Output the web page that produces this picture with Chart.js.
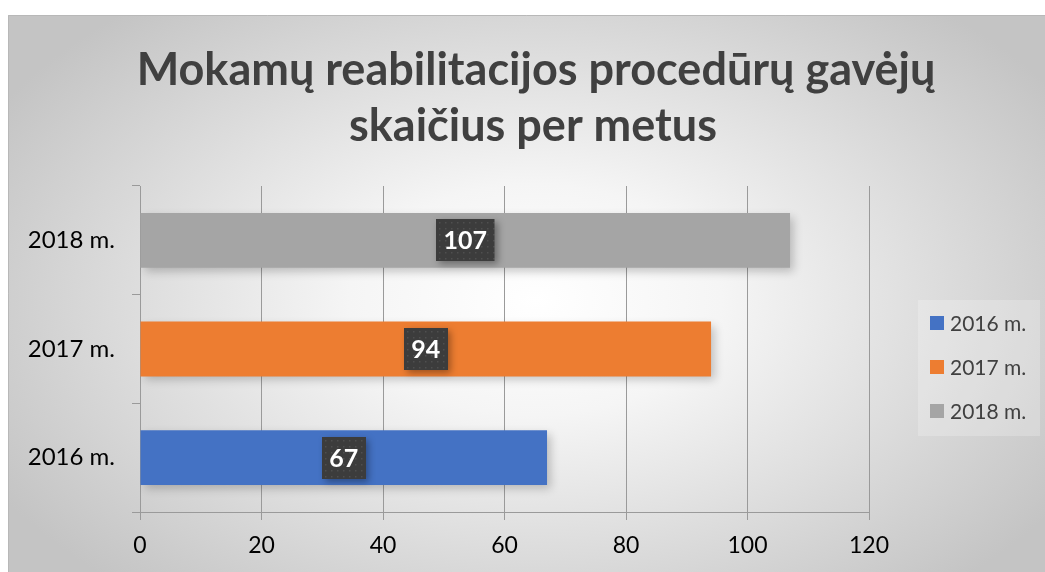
<!DOCTYPE html>
<html>
<head>
<meta charset="utf-8">
<script src="https://cdn.jsdelivr.net/npm/chart.js@4"></script>
<style>
    html, body { margin: 0; padding: 0; background: #ffffff; }
    #wrap { width: 1045px; height: 572px; position: relative; }
</style>
</head>
<body>
<div id="wrap"><canvas id="chart"></canvas></div>
<script>
// chart data
const titleLines = ["Mokamų reabilitacijos procedūrų gavėjų", "skaičius per metus"];
const categories = ["2016 m.", "2017 m.", "2018 m."];
const values = [67, 94, 107];
const colors = ["#4472c4", "#ed7d31", "#a5a5a5"];
const xTicks = [0, 20, 40, 60, 80, 100, 120];

const FONT = "Lato, 'Open Sans', sans-serif";

// background frame with soft radial fill
const backgroundPlugin = {
    id: "background",
    beforeDraw(chart) {
        const ctx = chart.ctx;
        const x0 = 8, y0 = 15, x1 = chart.width, y1 = chart.height;
        ctx.save();
        ctx.beginPath();
        ctx.rect(x0, y0, x1 - x0, y1 - y0);
        ctx.clip();
        ctx.translate(535, 300);
        ctx.scale(1, 0.62);
        const g = ctx.createRadialGradient(0, 0, 0, 0, 0, 620);
        g.addColorStop(0, "#ffffff");
        g.addColorStop(0.3, "#f5f5f5");
        g.addColorStop(1, "#c4c4c4");
        ctx.fillStyle = g;
        ctx.fillRect(-700, -700, 1400, 1400);
        ctx.restore();

        ctx.save();
        ctx.strokeStyle = "#b8b8b8";
        ctx.lineWidth = 1;
        ctx.beginPath();
        ctx.moveTo(x0 + 0.5, y1);
        ctx.lineTo(x0 + 0.5, y0 + 0.5);
        ctx.lineTo(x1, y0 + 0.5);
        ctx.stroke();
        ctx.restore();

        // title
        ctx.save();
        ctx.fillStyle = "#404040";
        ctx.font = "bold 45px " + FONT;
        ctx.textAlign = "center";
        ctx.textBaseline = "alphabetic";
        ctx.fillText(titleLines[0], 536, 85);
        ctx.fillText(titleLines[1], 533, 141);
        ctx.restore();
    },
};

// soft shadow under bars
const shadowPlugin = {
    id: "barShadow",
    beforeDatasetsDraw(chart) {
        const ctx = chart.ctx;
        ctx.save();
        ctx.shadowColor = "rgba(0, 0, 0, 0.22)";
        ctx.shadowBlur = 9;
        ctx.shadowOffsetX = 4;
        ctx.shadowOffsetY = 4;
    },
    afterDatasetsDraw(chart) {
        chart.ctx.restore();
    },
};

// value labels in dark boxes
const labelPlugin = {
    id: "valueLabels",
    afterDatasetsDraw(chart) {
        const ctx = chart.ctx;
        ctx.save();
        ctx.font = "bold 25px " + FONT;
        chart.data.datasets.forEach((ds, i) => {
            const meta = chart.getDatasetMeta(i);
            meta.data.forEach((bar, j) => {
                const v = ds.data[j];
                if (v === null || v === undefined) {
                    return;
                }
                const text = String(v);
                const cx = (bar.base + bar.x) / 2;
                const cy = bar.y;
                const w = ctx.measureText(text).width + 15;
                const h = 42;
                const bx = Math.round(cx - w / 2);
                const by = Math.round(cy - h / 2);

                ctx.save();
                ctx.shadowColor = "rgba(0, 0, 0, 0.35)";
                ctx.shadowBlur = 7;
                ctx.shadowOffsetX = 3;
                ctx.shadowOffsetY = 3;
                ctx.fillStyle = "#3c3c3c";
                ctx.fillRect(bx, by, w, h);
                ctx.restore();

                // dotted texture
                ctx.fillStyle = "rgba(255, 255, 255, 0.10)";
                for (let dy = 3; dy < h; dy += 6) {
                    for (let dx = 3; dx < w; dx += 6) {
                        ctx.fillRect(bx + dx, by + dy, 1.5, 1.5);
                    }
                }

                ctx.fillStyle = "#ffffff";
                ctx.textAlign = "center";
                ctx.textBaseline = "middle";
                ctx.fillText(text, cx, cy + 1);
            });
        });
        ctx.restore();
    },
};

// legend box on the right
const legendPlugin = {
    id: "sideLegend",
    afterDraw(chart) {
        const ctx = chart.ctx;
        ctx.save();
        ctx.fillStyle = "rgba(255, 255, 255, 0.22)";
        ctx.fillRect(918, 300, 122, 136);
        ctx.font = "21px " + FONT;
        ctx.textBaseline = "middle";
        ctx.textAlign = "left";
        chart.data.datasets.forEach((ds, i) => {
            const y = 323 + i * 44;
            ctx.fillStyle = ds.backgroundColor;
            ctx.fillRect(930, y - 7, 14, 14);
            ctx.fillStyle = "#404040";
            ctx.fillText(ds.label, 950, y + 1);
        });
        ctx.restore();
    },
};

const datasets = categories.map((cat, i) => ({
    label: cat,
    data: categories.map((_, j) => (j === i ? values[i] : null)),
    backgroundColor: colors[i],
    borderWidth: 0,
    barPercentage: 0.505,
    categoryPercentage: 1,
    grouped: false,
}));

new Chart(document.getElementById("chart").getContext("2d"), {
    type: "bar",

    data: {
        labels: categories,
        datasets: datasets,
    },

    options: {
        indexAxis: "y",
        responsive: true,
        maintainAspectRatio: false,
        animation: false,
        devicePixelRatio: 1,

        layout: {
            padding: { left: 8, top: 186, right: 176, bottom: 0 },
        },

        scales: {
            x: {
                min: 0,
                max: 120,
                afterFit(scale) {
                    scale.height = 60;
                },
                afterBuildTicks(scale) {
                    scale.ticks = xTicks.map((v) => ({ value: v }));
                },
                grid: {
                    color: "#9a9a9a",
                    lineWidth: 1,
                    tickLength: 8,
                },
                border: {
                    display: true,
                    color: "#9a9a9a",
                },
                ticks: {
                    color: "#000000",
                    padding: 12,
                    font: { family: FONT, size: 23 },
                },
            },
            y: {
                reverse: true,
                afterFit(scale) {
                    scale.width = 132;
                },
                grid: {
                    drawOnChartArea: false,
                    color: "#9a9a9a",
                    tickLength: 8,
                },
                border: {
                    display: true,
                    color: "#9a9a9a",
                },
                ticks: {
                    color: "#000000",
                    padding: 17,
                    font: { family: FONT, size: 24 },
                },
            },
        },

        plugins: {
            legend: { display: false },
            title: { display: false },
            tooltip: { enabled: false },
        },
    },

    plugins: [backgroundPlugin, shadowPlugin, labelPlugin, legendPlugin],
});
</script>
</body>
</html>
